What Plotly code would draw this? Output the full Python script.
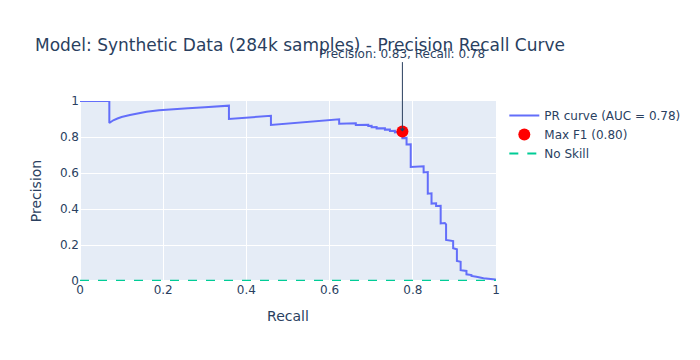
import plotly.graph_objects as go

# PR curve points (recall, precision)
recall = [0.0, 0.0705, 0.0705, 0.08, 0.09, 0.10, 0.12, 0.14, 0.16, 0.19, 0.22, 0.26, 0.30, 0.33, 0.358,
          0.358, 0.459, 0.459, 0.623, 0.623, 0.663, 0.663, 0.693, 0.693, 0.701, 0.701, 0.713, 0.713,
          0.733, 0.733, 0.745, 0.745, 0.757, 0.757, 0.775, 0.775, 0.785, 0.785, 0.795, 0.795,
          0.826, 0.826, 0.836, 0.836, 0.845, 0.845, 0.856, 0.856, 0.867, 0.867, 0.877, 0.880, 0.880,
          0.897, 0.897, 0.906, 0.906, 0.915, 0.915, 0.929, 0.929, 0.941, 0.941, 0.953, 0.970, 0.998, 1.0]
precision = [1.0, 1.0, 0.878, 0.893, 0.903, 0.911, 0.922, 0.932, 0.940, 0.949, 0.955, 0.960, 0.965, 0.970, 0.974,
             0.900, 0.918, 0.867, 0.898, 0.874, 0.876, 0.867, 0.868, 0.861, 0.862, 0.854, 0.855, 0.848,
             0.849, 0.841, 0.842, 0.834, 0.835, 0.826, 0.830, 0.793, 0.795, 0.759, 0.760, 0.633,
             0.637, 0.603, 0.605, 0.485, 0.487, 0.430, 0.432, 0.417, 0.418, 0.320, 0.322, 0.315, 0.228,
             0.222, 0.182, 0.176, 0.111, 0.107, 0.060, 0.056, 0.037, 0.033, 0.028, 0.024, 0.015, 0.009, 0.005]

auc_value = 0.78
best_recall = 0.775
best_precision = 0.83
best_f1 = 0.80
no_skill = 0.0017

fig = go.Figure()
fig.add_trace(go.Scatter(x=recall, y=precision, mode="lines",
                         name=f"PR curve (AUC = {auc_value:.2f})",
                         line=dict(color="#636efa", width=2)))
fig.add_trace(go.Scatter(x=[best_recall], y=[best_precision], mode="markers",
                         name=f"Max F1 ({best_f1:.2f})",
                         marker=dict(color="red", size=12)))
fig.add_trace(go.Scatter(x=[0, 1], y=[no_skill, no_skill], mode="lines",
                         name="No Skill",
                         line=dict(color="#00cc96", dash="dash", width=2)))

fig.add_annotation(x=best_recall, y=best_precision,
                   text=f"Precision: {best_precision:.2f}, Recall: {best_recall:.2f}",
                   showarrow=True, arrowhead=1, ax=0, ay=-78)

W, H = 692, 352
fig.update_layout(
    font=dict(family="DejaVu Sans"),
    title=dict(text="Model: Synthetic Data (284k samples) - Precision Recall Curve",
               x=27 / W, xanchor="left", y=1 - 37 / H, yanchor="middle"),
    xaxis=dict(title="Recall", range=[0, 1]),
    yaxis=dict(title="Precision", range=[0, 1]),
    width=W, height=H,
    margin=dict(l=72, r=204, t=93, b=79),
)
fig.write_html("out.html")
